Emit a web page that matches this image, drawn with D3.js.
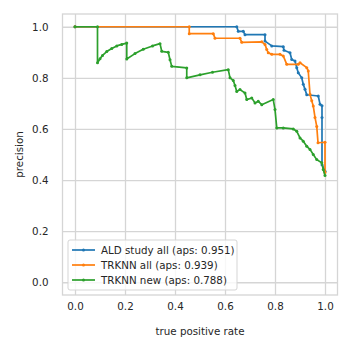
<!DOCTYPE html>
<html>
<head>
<meta charset="utf-8">
<script src="https://cdn.jsdelivr.net/npm/d3@7"></script>
<style>
  html, body { margin: 0; padding: 0; background: #fff; }
  svg { display: block; font-family: "DejaVu Sans", sans-serif; }
</style>
</head>
<body>
<svg id="chart" width="352" height="352"></svg>
<script>
// ---- data ----
const seriesNames = ["ALD study all (aps: 0.951)", "TRKNN all (aps: 0.939)", "TRKNN new (aps: 0.788)"];
const seriesColors = ["#1f77b4", "#ff7f0e", "#2ca02c"];

const aldRecall = [0, 0.647, 0.653, 0.673, 0.68, 0.76, 0.76, 0.787, 0.833, 0.836, 0.86, 0.867, 0.88, 0.887, 0.893, 0.907, 0.913, 0.92, 0.927, 0.973, 0.98, 0.988, 0.988, 0.988, 1.0];
const aldPrecision = [1, 1, 0.982, 0.982, 0.969, 0.969, 0.944, 0.925, 0.922, 0.908, 0.898, 0.872, 0.866, 0.84, 0.82, 0.80, 0.775, 0.755, 0.734, 0.729, 0.697, 0.691, 0.645, 0.46, 0.434];

const trkAllRecall = [0, 0.457, 0.457, 0.553, 0.56, 0.66, 0.667, 0.747, 0.76, 0.767, 0.773, 0.787, 0.82, 0.833, 0.847, 0.893, 0.90, 0.927, 0.933, 0.94, 0.947, 0.953, 0.96, 0.967, 0.972, 1.0, 1.0];
const trkAllPrecision = [1, 1, 0.973, 0.973, 0.955, 0.955, 0.939, 0.941, 0.931, 0.911, 0.898, 0.892, 0.892, 0.886, 0.853, 0.853, 0.859, 0.84, 0.827, 0.736, 0.71, 0.69, 0.645, 0.61, 0.546, 0.548, 0.43];

const trkNewRecall = [0, 0.09, 0.09, 0.1, 0.11, 0.127, 0.147, 0.167, 0.187, 0.207, 0.207, 0.24, 0.273, 0.31, 0.34, 0.347, 0.373, 0.38, 0.387, 0.447, 0.447, 0.5, 0.55, 0.613, 0.62, 0.633, 0.64, 0.647, 0.66, 0.68, 0.687, 0.707, 0.72, 0.733, 0.747, 0.793, 0.80, 0.807, 0.833, 0.873, 0.887, 0.90, 0.913, 0.927, 0.94, 0.953, 0.967, 0.987, 0.993, 1.0];
const trkNewPrecision = [1, 1, 0.859, 0.875, 0.888, 0.903, 0.915, 0.925, 0.931, 0.936, 0.874, 0.895, 0.912, 0.925, 0.934, 0.904, 0.90, 0.871, 0.845, 0.839, 0.80, 0.812, 0.822, 0.832, 0.80, 0.79, 0.77, 0.747, 0.754, 0.741, 0.715, 0.721, 0.702, 0.708, 0.695, 0.715, 0.676, 0.604, 0.604, 0.60, 0.591, 0.565, 0.552, 0.532, 0.52, 0.50, 0.48, 0.468, 0.441, 0.418];

const xTicks = [0.0, 0.2, 0.4, 0.6, 0.8, 1.0];
const yTicks = [0.0, 0.2, 0.4, 0.6, 0.8, 1.0];
const xLabel = "true positive rate";
const yLabel = "precision";

// ---- layout ----
const svg = d3.select("#chart");
const plot = { left: 62.5, right: 337.5, top: 14, bottom: 295 };
const x = d3.scaleLinear().domain([-0.05, 1.05]).range([plot.left, plot.right]);
const y = d3.scaleLinear().domain([-0.05, 1.05]).range([plot.bottom, plot.top]);
const gridColor = "#d5d5d5";
const textColor = "#262626";
const fontSize = 10.3;

// grid
const gx = svg.append("g")
  .attr("transform", `translate(0,${plot.bottom})`)
  .call(d3.axisBottom(x).tickValues(xTicks).tickSize(-(plot.bottom - plot.top)).tickPadding(8).tickFormat(d3.format(".1f")));
const gy = svg.append("g")
  .attr("transform", `translate(${plot.left},0)`)
  .call(d3.axisLeft(y).tickValues(yTicks).tickSize(-(plot.right - plot.left)).tickPadding(14).tickFormat(d3.format(".1f")));
[gx, gy].forEach(g => {
  g.select(".domain").remove();
  g.selectAll(".tick line").attr("stroke", gridColor).attr("stroke-width", 1.3);
  g.selectAll(".tick text").attr("fill", textColor).attr("font-size", fontSize)
    .attr("font-family", "DejaVu Sans, sans-serif");
});

// frame
svg.append("rect")
  .attr("x", plot.left).attr("y", plot.top)
  .attr("width", plot.right - plot.left).attr("height", plot.bottom - plot.top)
  .attr("fill", "none").attr("stroke", gridColor).attr("stroke-width", 1.3);

// series
const series = [
  { r: aldRecall, p: aldPrecision },
  { r: trkAllRecall, p: trkAllPrecision },
  { r: trkNewRecall, p: trkNewPrecision }
];
const line = d3.line().x(d => x(d[0])).y(d => y(d[1]));
series.forEach((s, i) => {
  const pts = s.r.map((r, k) => [r, s.p[k]]);
  const g = svg.append("g");
  g.append("path").datum(pts)
    .attr("d", line).attr("fill", "none")
    .attr("stroke", seriesColors[i]).attr("stroke-width", 1.7)
    .attr("stroke-linejoin", "round");
  g.selectAll("circle").data(pts).enter().append("circle")
    .attr("cx", d => x(d[0])).attr("cy", d => y(d[1])).attr("r", 1.5)
    .attr("fill", seriesColors[i]);
});

// axis labels
svg.append("text").attr("x", (plot.left + plot.right) / 2).attr("y", 335)
  .attr("text-anchor", "middle").attr("font-size", fontSize).attr("fill", textColor).text(xLabel);
svg.append("text").attr("transform", `translate(23,${(plot.top + plot.bottom) / 2}) rotate(-90)`)
  .attr("text-anchor", "middle").attr("font-size", fontSize).attr("fill", textColor).text(yLabel);

// legend
const leg = svg.append("g");
leg.append("rect").attr("x", 68).attr("y", 240).attr("width", 169).attr("height", 50)
  .attr("rx", 2).attr("fill", "#ffffff").attr("fill-opacity", 0.8)
  .attr("stroke", gridColor).attr("stroke-width", 1);
seriesNames.forEach((name, i) => {
  const yy = 250 + i * 15;
  leg.append("line").attr("x1", 72).attr("x2", 95).attr("y1", yy).attr("y2", yy)
    .attr("stroke", seriesColors[i]).attr("stroke-width", 1.7);
  leg.append("circle").attr("cx", 83.5).attr("cy", yy).attr("r", 1.5).attr("fill", seriesColors[i]);
  leg.append("text").attr("x", 101).attr("y", yy).attr("dy", "0.35em")
    .attr("font-size", fontSize).attr("fill", textColor).text(name);
});
</script>
</body>
</html>
